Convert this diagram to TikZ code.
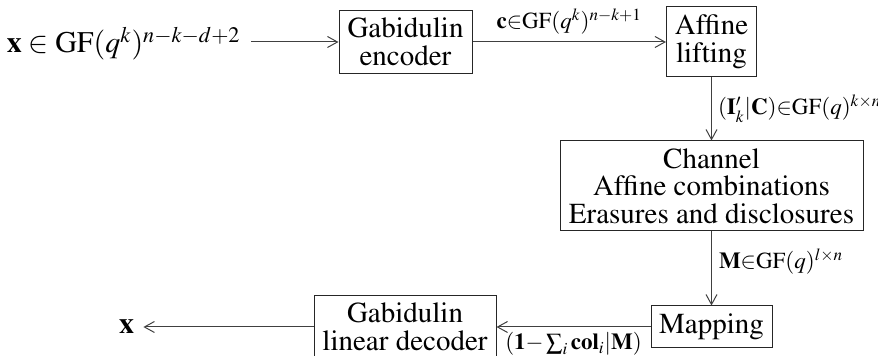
\documentclass[tikz,border=0pt]{standalone}
\usepackage[T1]{fontenc}
\usepackage{mathptmx}
\usetikzlibrary{arrows.meta}
\begin{document}
\begin{tikzpicture}[x=0.5pt,y=-0.5pt]
\tikzset{
 blk/.style={draw=black!85, line width=0.5pt, align=center, inner sep=0pt, font=\fontsize{14.5}{13.75}\selectfont},
 con/.style={draw=black!75, line width=0.5pt, -{Straight Barb[length=5pt,width=5.5pt]}},
 lbl/.style={font=\fontsize{11.5}{12}\selectfont, inner sep=0pt},
 big/.style={font=\fontsize{15}{15}\selectfont, inner sep=0pt}
}
\useasboundingbox (0,0) rectangle (878,356);
\node[blk, minimum width=66.5pt, minimum height=31.5pt] (enc) at (405.5,42) {Gabidulin\\encoder};
\node[blk, minimum width=45pt, minimum height=35pt] (aff) at (711.5,42) {Affine\\lifting};
\node[blk, minimum width=151.5pt, minimum height=45pt] (ch) at (711.5,186) {Channel\\Affine combinations\\Erasures and disclosures};
\node[blk, minimum width=60.5pt, minimum height=21pt] (map) at (711.5,327) {Mapping};
\node[blk, minimum width=91pt, minimum height=31.5pt] (dec) at (405,327) {Gabidulin\\linear decoder};
\node[big, anchor=base east] (in) at (241,53) {$\mathbf{x}\in\mathrm{GF}(q^k)^{n-k-d+2}$};
\node[big, anchor=base] (out) at (126.5,334) {$\mathbf{x}$};
\draw[con] ([xshift=5pt]in.east |- enc.west) -- (enc.west);
\draw[con] (enc.east) -- node[lbl, anchor=base, yshift=6.5pt] {$\mathbf{c}{\in}\mathrm{GF}(q^k)^{n-k+1}$} (aff.west);
\draw[con] (aff.south) -- node[lbl, anchor=base west, xshift=3pt, yshift=-3pt] {$(\mathbf{I}'_k|\mathbf{C}){\in}\mathrm{GF}(q)^{k\times n}$} (ch.north);
\draw[con] (ch.south) -- node[lbl, anchor=base west, xshift=3.5pt] {$\mathbf{M}{\in}\mathrm{GF}(q)^{l\times n}$} (map.north);
\draw[con] (map.west) -- node[lbl, anchor=base, yshift=-11.5pt] {$(\mathbf{1}{-}\sum_i\mathbf{col}_i|\mathbf{M})$} (dec.east);
\draw[con] (dec.west) -- ([xshift=4.5pt]out.east |- dec.west);
\end{tikzpicture}
\end{document}
